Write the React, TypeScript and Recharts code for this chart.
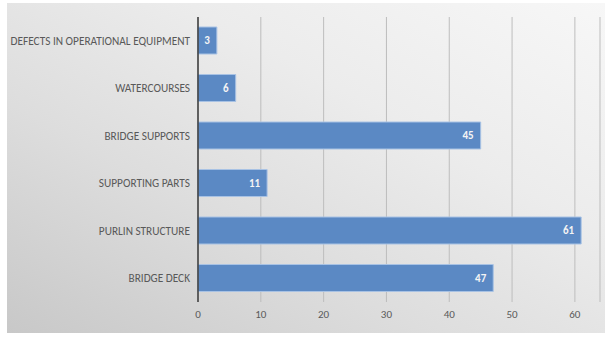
import { BarChart, Bar, XAxis, YAxis, CartesianGrid, LabelList } from "recharts";

const categories = [
  "DEFECTS IN OPERATIONAL EQUIPMENT",
  "WATERCOURSES",
  "BRIDGE SUPPORTS",
  "SUPPORTING PARTS",
  "PURLIN STRUCTURE",
  "BRIDGE DECK",
];
const counts = [3, 6, 45, 11, 61, 47];
const xTicks = [0, 10, 20, 30, 40, 50, 60];

const data = categories.map((name, i) => ({ name, value: counts[i] }));

const font = "Carlito, 'Liberation Sans Narrow', 'Liberation Sans', Arial, sans-serif";

const CategoryTick = ({ x, y, payload }: any) => (
  <text
    x={x}
    y={y}
    dy={4}
    textAnchor="end"
    fill="#595959"
    fontSize={11.3}
    fontFamily={font}
  >
    {payload.value}
  </text>
);

const App = () => {
  return (
    <div style={{ position: "absolute", left: 0, top: 0, width: 605, height: 338, background: "#fff" }}>
      <div
        style={{
          position: "absolute",
          left: 7,
          top: 3,
          width: 598,
          height: 330,
          background: "linear-gradient(to top right, #c8c8c8 0%, #dddddd 35%, #ececec 65%, #f7f7f7 100%)",
        }}
      />
      <div style={{ position: "absolute", left: 0, top: 0 }}>
        <BarChart
          width={605}
          height={338}
          data={data}
          layout="vertical"
          margin={{ top: 17, right: 5, bottom: 0, left: 0 }}
        >
          <CartesianGrid horizontal={false} stroke="#bdbdbd" />
          <XAxis
            type="number"
            domain={[0, 64]}
            ticks={xTicks}
            axisLine={false}
            tickLine={false}
            height={36}
            tick={{ fill: "#595959", fontSize: 11, fontFamily: font }}
          />
          <YAxis
            type="category"
            dataKey="name"
            width={198}
            axisLine={{ stroke: "#3a3a3a", strokeWidth: 1.5 }}
            tickLine={false}
            tick={<CategoryTick />}
          />
          <Bar dataKey="value" fill="#5b89c4" stroke="#a8c2e4" strokeWidth={1} barSize={27} isAnimationActive={false}>
            <LabelList
              dataKey="value"
              position="insideRight"
              offset={7}
              fill="#f4f4f4"
              fontSize={11}
              fontWeight="bold"
              fontFamily={font}
            />
          </Bar>
        </BarChart>
      </div>
    </div>
  );
};

export default App;
